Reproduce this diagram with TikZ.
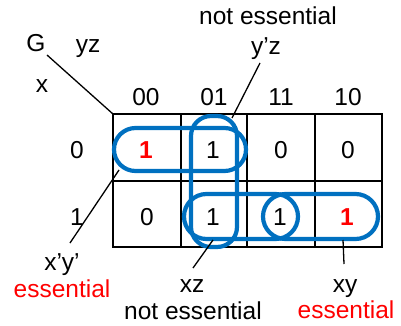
\documentclass[tikz,border=0pt]{standalone}
\usepackage{fontspec}
\setmainfont{Liberation Sans}
\definecolor{loopblue}{RGB}{0,112,192}
\definecolor{ered}{RGB}{255,0,0}
\begin{document}
\begin{tikzpicture}[x=1pt,y=-1pt,
  lbl/.style={anchor=base,inner sep=0pt,font=\fontsize{24.5}{29}\selectfont},
  redbold/.style={lbl,text=ered,font=\fontsize{24.5}{29}\selectfont\bfseries},
  redlbl/.style={lbl,text=ered},
  gridline/.style={line width=1.6pt,black},
  loopbox/.style={draw=loopblue,line width=4.2pt,inner sep=0pt,outer sep=0pt},
  leader/.style={line width=1.3pt,black}]
\useasboundingbox (0,0) rectangle (401,326);
% grid
\coordinate (c0) at (113,114);
\draw[gridline] (113,114) rectangle (382,247);
\draw[gridline] (113,181) -- (382,181);
\foreach \xx in {181,247,315}{\draw[gridline] (\xx,114) -- (\xx,247);}
% corner labels
\node[lbl] (G) at (36,52) {G};
\node[lbl] (yz) at (88,53) {yz};
\node[lbl] (x) at (42,93) {x};
\coordinate (gs) at (47,55);
\draw[leader] (gs) -- (c0);
% headers
\node[lbl] (h00) at (146,106) {00};
\node[lbl] (h01) at (214,106) {01};
\node[lbl] (h11) at (281,106) {11};
\node[lbl] (h10) at (348,106) {10};
\node[lbl] (r0) at (77,158) {0};
\node[lbl] (r1) at (77,225) {1};
% loops
\node[loopbox,minimum width=132pt,minimum height=43pt,rounded corners=21.5pt] (A) at (180,149.5) {};
\node[loopbox,minimum width=46pt,minimum height=131pt,rounded corners=20pt] (B) at (214,181.5) {};
\node[loopbox,minimum width=114pt,minimum height=45pt,rounded corners=22.5pt] (C) at (241,216.5) {};
\node[loopbox,minimum width=115pt,minimum height=45pt,rounded corners=22.5pt] (D) at (320.5,216.5) {};
% cells
\node[redbold] (m0) at (146,158) {1};
\node[lbl] (m1) at (213,158) {1};
\node[lbl] (m3) at (281,158) {0};
\node[lbl] (m2) at (348,158) {0};
\node[lbl] (m4) at (147,225) {0};
\node[lbl] (m5) at (213,225) {1};
\node[lbl] (m7) at (280,225) {1};
\node[redbold] (m6) at (347,225) {1};
% top labels
\node[lbl] (ne1) at (268,25) {not essential};
\node[lbl] (yzp) at (266,55) {y’z};
\coordinate (yzs) at (260,63);
\coordinate (yze) at (232,118);
\draw[leader] (yzs) -- (yze);
% bottom labels
\node[lbl] (xpyp) at (62,270) {x’y’};
\node[redlbl] (ess1) at (62,297) {essential};
\coordinate (xps) at (70,243);
\coordinate (xpe) at (119,170);
\draw[leader] (xps) -- (xpe);
\node[lbl] (xz) at (192,292) {xz};
\node[lbl] (ne2) at (193,319) {not essential};
\coordinate (xzs) at (193,268);
\coordinate (xze) at (213,240);
\draw[leader] (xzs) -- (xze);
\node[lbl] (xy) at (345,292) {xy};
\node[redlbl] (ess2) at (346,318) {essential};
\coordinate (xys) at (344,264);
\coordinate (xye) at (343,240);
\draw[leader] (xys) -- (xye);
\end{tikzpicture}
\end{document}
